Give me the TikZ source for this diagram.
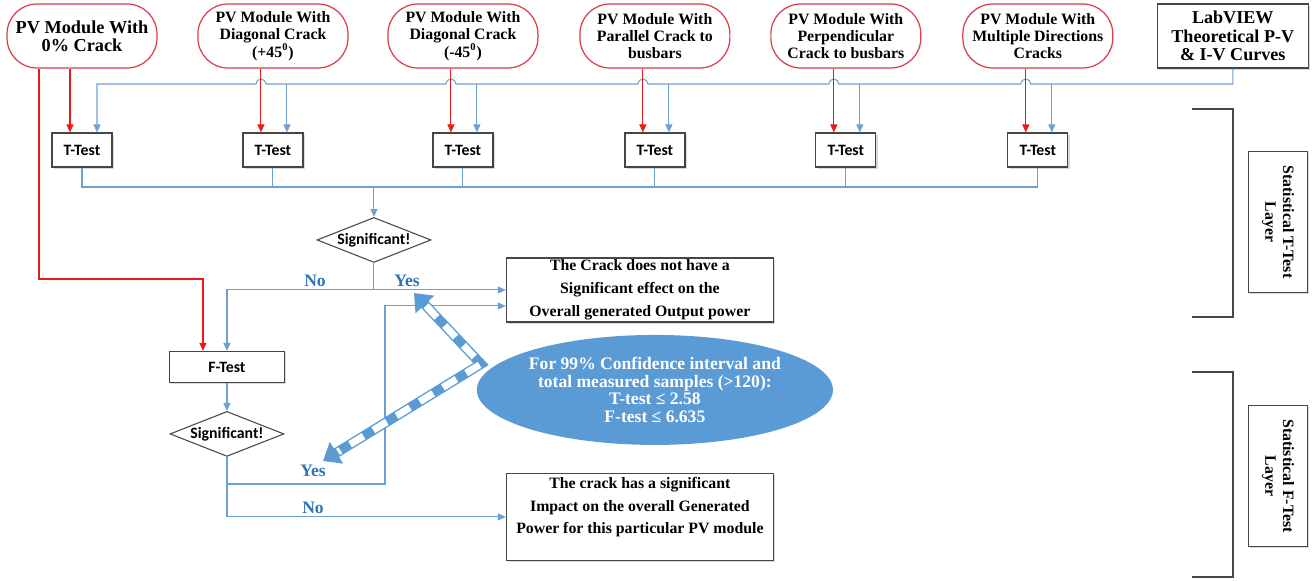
\documentclass[tikz,border=0pt]{standalone}
\usepackage{fontspec}
\setmainfont{Liberation Serif}
\newfontfamily\calibri{Carlito}
\usepackage{tikz}
\usetikzlibrary{positioning,calc,shapes.geometric,arrows.meta,shadows}
\definecolor{modred}{RGB}{220,60,75}
\definecolor{arrred}{RGB}{235,25,25}
\definecolor{flowblue}{RGB}{110,160,210}
\definecolor{fillblue}{RGB}{91,155,213}
\definecolor{ynblue}{RGB}{46,117,182}
\definecolor{boxgray}{RGB}{70,70,70}
\tikzset{
  module/.style={draw=modred, line width=0.7pt, rounded corners=0.6cm, minimum width=3cm, minimum height=1.28cm, align=center, inner sep=1pt, font=\bfseries\fontsize{9}{9.8}\selectfont},
  plainbox/.style={draw=boxgray, line width=0.7pt, fill=white, drop shadow={shadow xshift=1pt, shadow yshift=-1pt, opacity=0.3}},
  testbox/.style={plainbox, minimum width=1.2cm, minimum height=0.68cm, inner sep=1pt, font=\calibri\bfseries\fontsize{9}{10}\selectfont},
  decision/.style={diamond, draw=boxgray, line width=0.6pt, aspect=2.5, inner sep=0pt, minimum width=2.28cm, minimum height=0.9cm, font=\calibri\bfseries\fontsize{9}{10}\selectfont},
  result/.style={plainbox, minimum width=5.34cm, align=center, inner sep=1pt, font=\bfseries\fontsize{9}{13}\selectfont},
  layerbox/.style={plainbox, rotate=-90, minimum width=2.82cm, minimum height=1.18cm, align=center, inner sep=1pt, font=\bfseries\fontsize{9}{10}\selectfont},
  line/.style={draw=flowblue, line width=0.6pt},
  flow/.style={line, -{Triangle[length=4.5pt,width=4pt]}},
  redflow/.style={draw=arrred, line width=0.6pt, -{Triangle[length=4.5pt,width=4pt]}},
  yn/.style={text=ynblue, font=\bfseries\fontsize{10}{12}\selectfont},
  stripe/.style={draw=fillblue, line width=5.6pt, line join=miter, {Triangle[length=9pt,width=14pt]}-{Triangle[length=9pt,width=14pt]},
    postaction={draw=white, line width=4pt, arrows=-, dash pattern=on 9pt off 6.5pt, shorten <=10pt, shorten >=10pt}}
}

\begin{document}
\begin{tikzpicture}[x=0.02cm,y=-0.02cm]
        \useasboundingbox (0,0) rectangle (1313,581);

        \node [module, font=\bfseries\fontsize{10.4}{10.4}\selectfont] (M1) at (82,36) {PV Module With\\0\% Crack};
        \node [module, on grid, right=3.82cm of M1] (M2) {PV Module With\\Diagonal Crack\\(+45\textsuperscript{0})};
        \node [module, on grid, right=3.8cm of M2] (M3) {PV Module With\\Diagonal Crack\\(-45\textsuperscript{0})};
        \node [module, on grid, right=3.84cm of M3] (M4) {PV Module With\\Parallel Crack to\\busbars};
        \node [module, on grid, right=3.82cm of M4] (M5) {PV Module With\\Perpendicular\\Crack to busbars};
        \node [module, on grid, right=3.84cm of M5] (M6) {PV Module With\\Multiple Directions\\Cracks};
        \node [plainbox, on grid, right=3.9cm of M6, minimum width=3.02cm, minimum height=1.28cm, align=center, inner sep=1pt, font=\bfseries\fontsize{10.3}{10.4}\selectfont] (LV) {LabVIEW\\Theoretical P-V\\\& I-V Curves};

        \foreach \i in {1,...,6}
          \node [testbox, on grid, below=2.28cm of M\i] (T\i) {T-Test};

        \coordinate (busy) at (0,84);
        \coordinate (colly) at (0,187);
        \coordinate (redy) at (0,279);

        \draw[flow] (LV.south) -- (LV.south |- busy)
          \foreach \i in {6,5,4,3,2} { -- ($(T\i.north |- busy)+(-7,0)$) arc[start angle=0, end angle=180, radius=0.1cm] }
          -| ($(T1.north)+(15,0)$);
        \foreach \i in {2,...,6}
          \draw[flow] ($(T\i.north |- busy)+(14,0)$) -- ($(T\i.north)+(14,0)$);
        \foreach \i in {1,...,6}
          \draw[redflow] ($(M\i.south)+(-12,0)$) -- ($(T\i.north)+(-12,0)$);

        \draw[line] (T1.south) |- (T6.south |- colly) -- (T6.south);
        \foreach \i in {2,...,5}
          \draw[line] (T\i.south) -- (T\i.south |- colly);

        \node [decision, on grid, below right=1.8cm and 2.02cm of T2] (D1) {Significant!};
        \draw[flow] (D1.north |- colly) -- (D1.north);

        \node [testbox, on grid, below left=2.54cm and 2.94cm of D1, minimum width=2.3cm, minimum height=0.62cm] (FT) {F-Test};
        \node [decision, on grid, below=1.34cm of FT] (D2) {Significant!};
        \node [result, on grid, below right=1cm and 5.32cm of D1, minimum height=1.28cm] (R1) {The Crack does not have a\\Significant effect on the\\Overall generated Output power};
        \node [result, on grid, below=4.54cm of R1, minimum height=1.74cm] (R2) {The crack has a significant\\Impact on the overall Generated\\Power for this particular PV module\\\mbox{}};
        \node [ellipse, fill=fillblue, on grid, below right=2cm and 0.3cm of R1, minimum width=6.7cm, minimum height=2.2cm, inner sep=0pt, align=center, text=white, font=\bfseries\fontsize{10}{10.2}\selectfont] (limits) {For 99\% Confidence interval and\\total measured samples (>120):\\T-test ≤ 2.58\\F-test ≤ 6.635};

        \draw[flow] (D1.south) |- (R1.west);
        \draw[flow] (D1.south) |- (FT.north |- R1.west) -- (FT.north);
        \draw[redflow] ($(M1.south)+(-43,0)$) |- ($(FT.north |- redy)+(-24,0)$) -- ($(FT.north)+(-24,0)$);
        \draw[flow] (FT.south) -- (D2.north);
        \coordinate (yesturn) at (385,484);
        \draw[flow] (D2.south) |- (yesturn) |- ($(R1.west)+(0,16)$);
        \draw[flow] (D2.south) |- (R2.west);

        \node [yn] (No1) at (315,281) {No};
        \node [yn] (Yes1) at (407,281) {Yes};
        \node [yn] (Yes2) at (313,471) {Yes};
        \node [yn] (No2) at (313,508) {No};

        \coordinate (upTip) at (414,293);
        \coordinate (bend) at (481,364);
        \coordinate (dnTip) at (323,461);
        \draw[stripe] (upTip) -- (bend) -- (dnTip);

        \draw[draw=boxgray, line width=0.6pt] (1192,109) -| (1233,317) -- (1192,317);
        \draw[draw=boxgray, line width=0.6pt] (1192,372) -| (1233,577) -- (1192,577);
        \node [layerbox] (L1) at (1278,222) {Statistical T-Test\\Layer};
        \node [layerbox, on grid, below=5.08cm of L1] (L2) {Statistical F-Test\\Layer};
      \end{tikzpicture}
\end{document}
